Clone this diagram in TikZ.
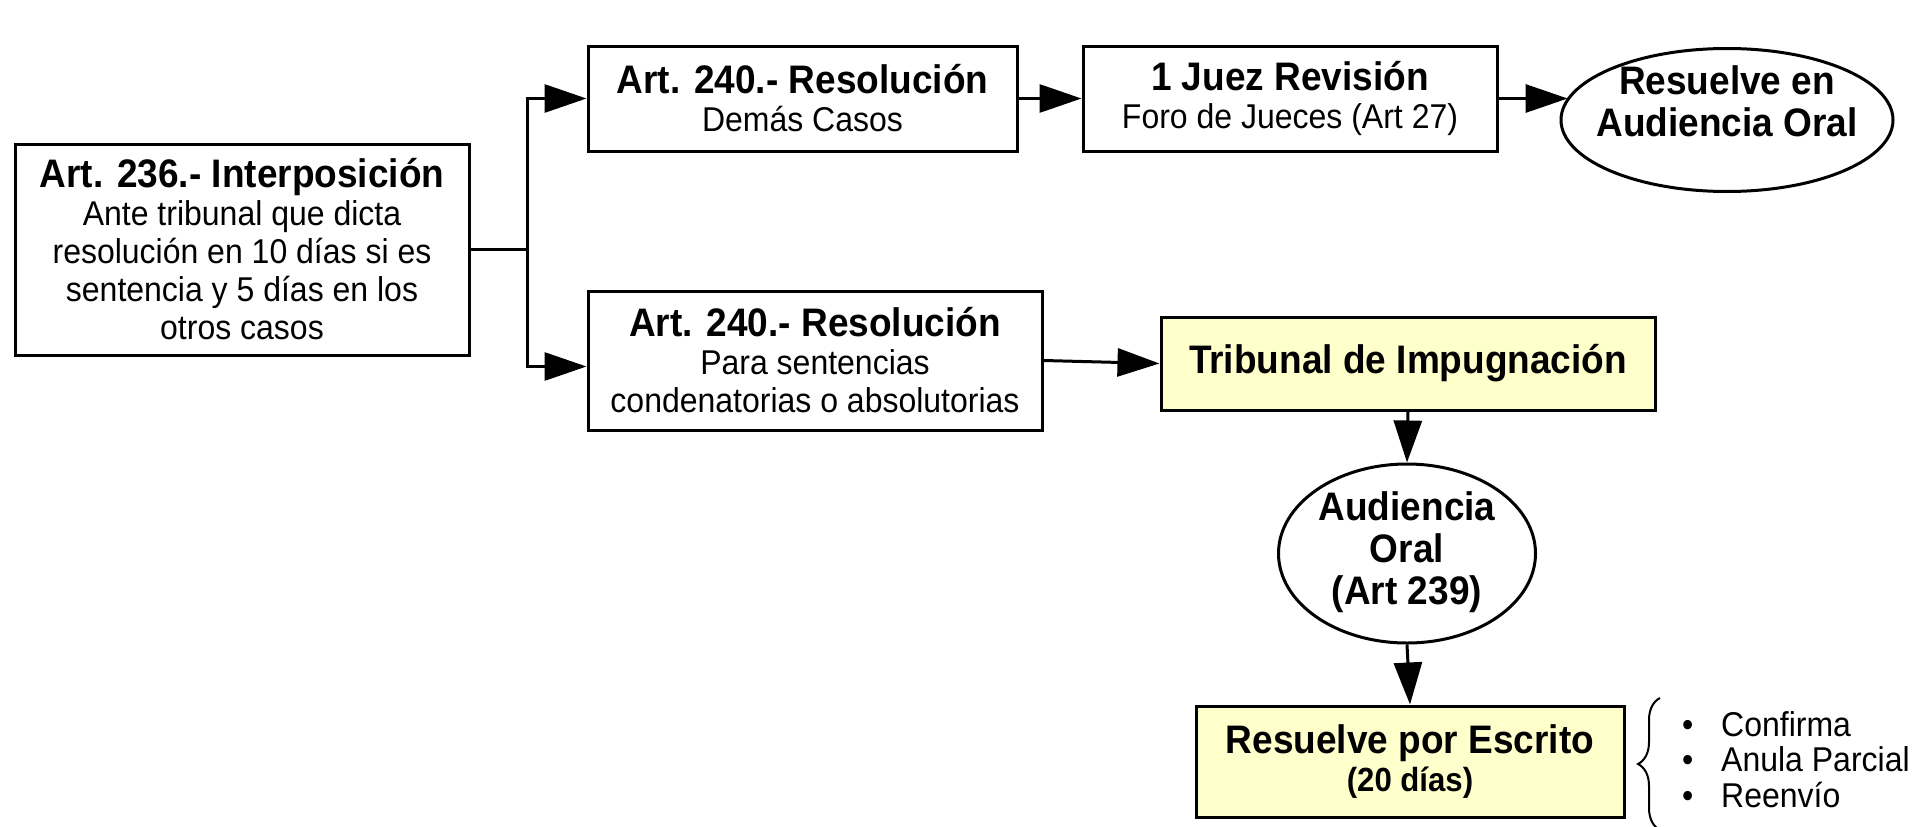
\documentclass[tikz,border=0pt]{standalone}
\usepackage{fontspec}
\setmainfont{Liberation Sans}[FakeStretch=0.93]
\usetikzlibrary{arrows.meta,shapes.geometric,decorations.pathreplacing}
\definecolor{paleyellow}{RGB}{255,255,204}
\newcommand\titlefont{\fontsize{39.8}{42}\selectfont\bfseries}
\newcommand\bodyfont{\fontsize{34.4}{38}\selectfont}
\newcommand\smallbold{\fontsize{33.5}{38}\selectfont\bfseries}
\begin{document}
\begin{tikzpicture}[x=1pt,y=-1pt,
  box/.style={draw, line width=3pt, rectangle, align=center, inner sep=0pt, font=\bodyfont},
  ybox/.style={box, fill=paleyellow},
  ell/.style={draw, line width=3pt, ellipse, inner sep=0pt},
  ttext/.style={align=center, inner sep=0pt, font=\titlefont},
  conn/.style={line width=3pt},
  arr/.style={line width=3pt, -{Triangle[length=42pt,width=28pt]}},
  item/.style={anchor=west, inner sep=0pt, font=\bodyfont}]
\useasboundingbox (0,0) rectangle (1914,827);

\node[box, minimum width=454pt, minimum height=211pt] (A) at (242,249.5)
  {{\titlefont Art. 236.- Interposición}\\Ante tribunal que dicta\\resolución en 10 días si es\\sentencia y 5 días en los\\otros casos};
\node[box, minimum width=429pt, minimum height=105pt] (B) at (802.5,98.5)
  {{\titlefont Art. 240.- Resolución}\\Demás Casos};
\node[box, minimum width=414pt, minimum height=105pt] (D) at (1290,98.5)
  {{\titlefont 1 Juez Revisión}\\Foro de Jueces (Art 27)};
\node[ell, minimum width=332pt, minimum height=143pt] (E) at (1727,120) {};
\node[ttext] (Et) at (1727,101) {Resuelve en\\Audiencia Oral};
\node[box, minimum width=454pt, minimum height=139pt] (C) at (815,360.5)
  {{\titlefont Art. 240.- Resolución}\\Para sentencias\\condenatorias o absolutorias};
\node[ybox, minimum width=494pt, minimum height=93pt] (F) at (1408,363.5)
  {\titlefont Tribunal de Impugnación};
\node[ell, minimum width=257pt, minimum height=179pt] (G) at (1407,553.5) {};
\node[ttext] (Gt) at (1407,552) {Audiencia\\Oral\\(Art 239)};
\node[ybox, minimum width=428pt, minimum height=111pt] (H) at (1410,761.5)
  {{\titlefont Resuelve por Escrito}\\{\smallbold (20 días)}};

\coordinate (J) at (527,249.5);
\draw[conn] (A.east) -- (J);
\draw[arr] (J) |- (B.west);
\draw[arr] (J) |- ([yshift=-6pt]C.west);
\draw[arr] (B.east) -- (D.west);
\draw[arr] (D.east) -- (D.east -| E.172.3);
\draw[arr] (C.east) -- (F.west);
\draw[arr] (F.south) -- (G.north);
\draw[arr] (G.south) -- (H.north);

\coordinate (brb) at (1660,830);
\coordinate (brt) at (1660,698);
\draw[line width=2pt, decorate, decoration={brace, amplitude=22pt}] (brb) -- (brt);

\node[item] (L1) at (1682,724) {\makebox[39pt][l]{•}Confirma};
\node[item] (L2) at (1682,759) {\makebox[39pt][l]{•}Anula Parcial};
\node[item] (L3) at (1682,795) {\makebox[39pt][l]{•}Reenvío};
\end{tikzpicture}
\end{document}
